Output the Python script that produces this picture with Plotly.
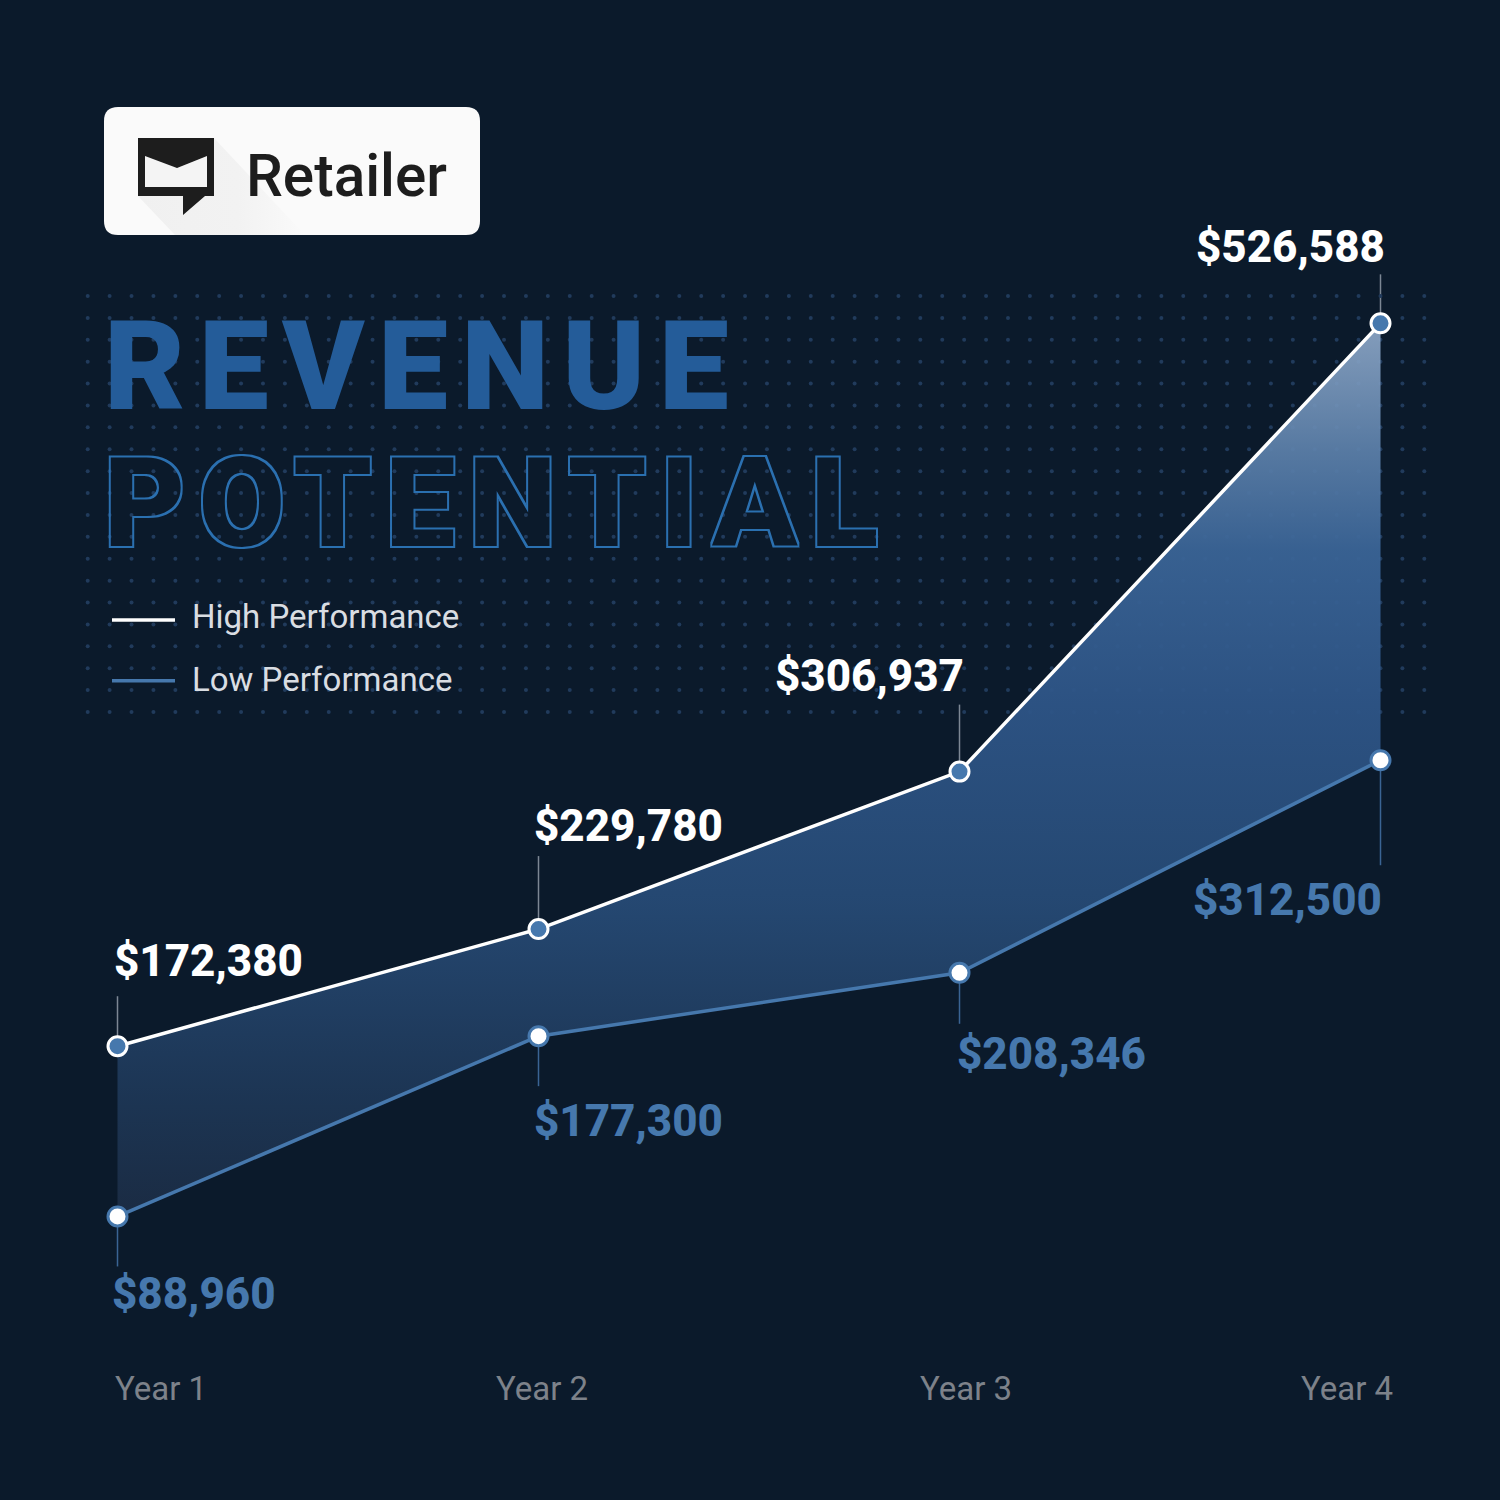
"""
Revenue potential poster, four years of high and low performance
"""
import numpy as np
import plotly.graph_objs as go

years = ['Year 1', 'Year 2', 'Year 3', 'Year 4']
high_perf = [172380, 229780, 306937, 526588]
low_perf = [88960, 177300, 208346, 312500]

BG = '#0b1a2b'
BLUE = '#4678ad'
TITLE_BLUE = '#245c99'
FONT = 'Roboto'

# pixel layout of the page, the poster is a fixed 1500 square
high_label_pos = [(113, 961), (533, 826), (774, 676), (1195, 247)]
low_label_pos = [(111, 1294), (533, 1121), (956, 1054), (1192, 900)]
year_label_pos = [(114, 'left'), (495, 'left'), (919, 'left'), (1394, 'right')]
high_stems = [50, 73, 67, 49]
low_stems = [50, 50, 51, 105]

dot_x = np.linspace(87.7, 1424.3, 62)
dot_y = np.linspace(296, 712, 20)
dots_x, dots_y = np.meshgrid(dot_x, dot_y)

fill_scale = [
    [0.0, 'rgba(27,44,68,0.95)'],
    [0.13, 'rgba(29,54,85,0.95)'],
    [0.353, 'rgba(38,74,117,0.95)'],
    [0.577, 'rgba(46,85,135,0.95)'],
    [0.745, 'rgba(58,100,150,0.95)'],
    [0.857, 'rgba(92,128,170,0.93)'],
    [1.0, 'rgba(146,172,204,0.9)'],
]

data = [
    # dots and logo shadow sit on the pixel axes, under the chart
    go.Scatter(
        x=dots_x.ravel(), y=dots_y.ravel(), mode='markers', showlegend=False,
        marker={'size': 4, 'color': '#213b5c'}, hoverinfo='skip'
    ),
    go.Scatter(
        x=[138, 214, 305, 175, 138], y=[196, 138, 235, 235, 196], mode='none',
        fill='toself', showlegend=False, hoverinfo='skip',
        fillgradient={'type': 'horizontal',
                      'colorscale': [[0, '#f0f0f0'], [0.6, '#f2f2f2'], [1, '#fafafa']]}
    ),
    go.Scatter(
        x=years + years[::-1], y=high_perf + low_perf[::-1], mode='none',
        fill='toself', showlegend=False, hoverinfo='skip',
        fillgradient={'type': 'vertical', 'colorscale': fill_scale},
        xaxis='x2', yaxis='y2'
    ),
    go.Scatter(
        x=years, y=high_perf, mode='lines', name='High Performance',
        line={'color': 'white', 'width': 3.5}, legendgroup='high',
        xaxis='x2', yaxis='y2'
    ),
    go.Scatter(
        x=years, y=low_perf, mode='lines', name='Low Performance',
        line={'color': BLUE, 'width': 3.5}, legendgroup='low',
        xaxis='x2', yaxis='y2'
    ),
    go.Scatter(
        x=years, y=high_perf, mode='markers', showlegend=False,
        marker={'size': 19, 'color': BLUE, 'line': {'color': 'white', 'width': 3}},
        xaxis='x2', yaxis='y2'
    ),
    go.Scatter(
        x=years, y=low_perf, mode='markers', showlegend=False,
        marker={'size': 19, 'color': 'white', 'line': {'color': BLUE, 'width': 3}},
        xaxis='x2', yaxis='y2'
    ),
]


def text_note(text, x, y, size, color, weight=400, anchor='left'):
    return dict(
        text=text, x=x, y=y, xref='x', yref='y', showarrow=False, align=anchor,
        xanchor=anchor, yanchor='middle', borderpad=0,
        font={'family': FONT, 'size': size, 'color': color, 'weight': weight}
    )


annotations = [
    text_note('Retailer', 245, 176, 58.5, '#1d1d1d', 550),
    text_note('REVENUE', 103, 366.5, 125, TITLE_BLUE, 900),
    text_note('POTENTIAL', 103, 503, 125, TITLE_BLUE, 900),
]
for val, (lx, ly) in zip(high_perf, high_label_pos):
    annotations.append(text_note(f'${val:,}', lx, ly, 44, 'white', 800))
for val, (lx, ly) in zip(low_perf, low_label_pos):
    annotations.append(text_note(f'${val:,}', lx, ly, 44, BLUE, 800))
for name, (lx, side) in zip(years, year_label_pos):
    annotations.append(text_note(name, lx, 1388, 33, '#7d828a', 400, side))

shapes = [
    dict(type='path', layer='below', xref='x', yref='y', fillcolor='#fafafa', line={'width': 0},
         path='M118,107 L466,107 Q480,107 480,121 L480,221 Q480,235 466,235 '
              'L118,235 Q104,235 104,221 L104,121 Q104,107 118,107 Z'),
    dict(type='path', layer='above', xref='x', yref='y', fillcolor='#1d1d1d', line={'width': 0},
         path='M138,138 L214,138 L214,196 L205,196 L183,215 L183,196 L138,196 Z'),
    dict(type='path', layer='above', xref='x', yref='y', fillcolor='#f4f4f4', line={'width': 0},
         path='M145,156 L177,168 L207,156 L207,187 L145,187 Z'),
]
for yr, val, stem in zip(years, high_perf, high_stems):
    shapes.append(dict(type='line', layer='below', xref='x2', yref='y2', ysizemode='pixel',
                       x0=yr, x1=yr, yanchor=val, y0=0, y1=stem,
                       line={'color': '#7c8794', 'width': 1.5}))
for yr, val, stem in zip(years, low_perf, low_stems):
    shapes.append(dict(type='line', layer='below', xref='x2', yref='y2', ysizemode='pixel',
                       x0=yr, x1=yr, yanchor=val, y0=0, y1=-stem,
                       line={'color': '#3a6494', 'width': 1.5}))

hidden = {'visible': False, 'showgrid': False, 'zeroline': False}

layout = go.Layout(
    autosize=False, width=1500, height=1500,
    margin={'l': 0, 'r': 0, 't': 0, 'b': 0},
    paper_bgcolor=BG, plot_bgcolor=BG,
    xaxis={**hidden, 'range': [0, 1500]},
    yaxis={**hidden, 'range': [1500, 0]},
    xaxis2={**hidden, 'overlaying': 'x', 'type': 'category', 'categoryorder': 'array',
            'categoryarray': years, 'range': [-117.5 / 421, 1382.5 / 421]},
    yaxis2={**hidden, 'overlaying': 'y', 'range': [-49980, 685020]},
    annotations=annotations, shapes=shapes,
    showlegend=True,
    legend={'x': 107 / 1500, 'y': 1 - 592 / 1500, 'xanchor': 'left', 'yanchor': 'top',
            'bgcolor': 'rgba(0,0,0,0)', 'traceorder': 'grouped', 'tracegroupgap': 15,
            'itemwidth': 63, 'font': {'family': FONT, 'size': 33, 'color': '#d9dde2'}},
)

fig = go.Figure(data=data, layout=layout)

# plotly has no letter spacing or text outline, so set them on the svg text
# outline is done with a filter because the variable font shows overlapping contours when stroked
post_script = """
document.body.style.margin = '0';
document.body.style.background = '%s';
var svg = document.querySelector('.main-svg');
var defs = document.createElementNS('http://www.w3.org/2000/svg', 'defs');
defs.innerHTML = '<filter id="outline" x="-5%%" y="-20%%" width="110%%" height="140%%">' +
    '<feMorphology in="SourceAlpha" operator="dilate" radius="2" result="d"/>' +
    '<feComposite in="d" in2="SourceAlpha" operator="out" result="o"/>' +
    '<feFlood flood-color="#2c6fb0"/>' +
    '<feComposite in2="o" operator="in"/></filter>';
svg.appendChild(defs);
document.querySelectorAll('.annotation-text').forEach(function (t) {
    if (t.textContent === 'REVENUE' || t.textContent === 'POTENTIAL') {
        t.style.letterSpacing = '13.3px';
    }
    if (t.textContent === 'POTENTIAL') {
        t.setAttribute('filter', 'url(#outline)');
    }
});
// legend text moved right of plotly's slot, so the legend clip has to go
document.querySelectorAll('.legend .scrollbox').forEach(function (b) {
    b.removeAttribute('clip-path');
    b.style.clipPath = 'none';
});
document.querySelectorAll('.legendtext').forEach(function (t, i) {
    t.setAttribute('x', parseFloat(t.getAttribute('x')) + 12);
    t.setAttribute('y', parseFloat(t.getAttribute('y')) - (i === 0 ? 5 : 3));
});
""" % BG

fig.write_html("out.html", post_script=post_script, config={'displayModeBar': False})
